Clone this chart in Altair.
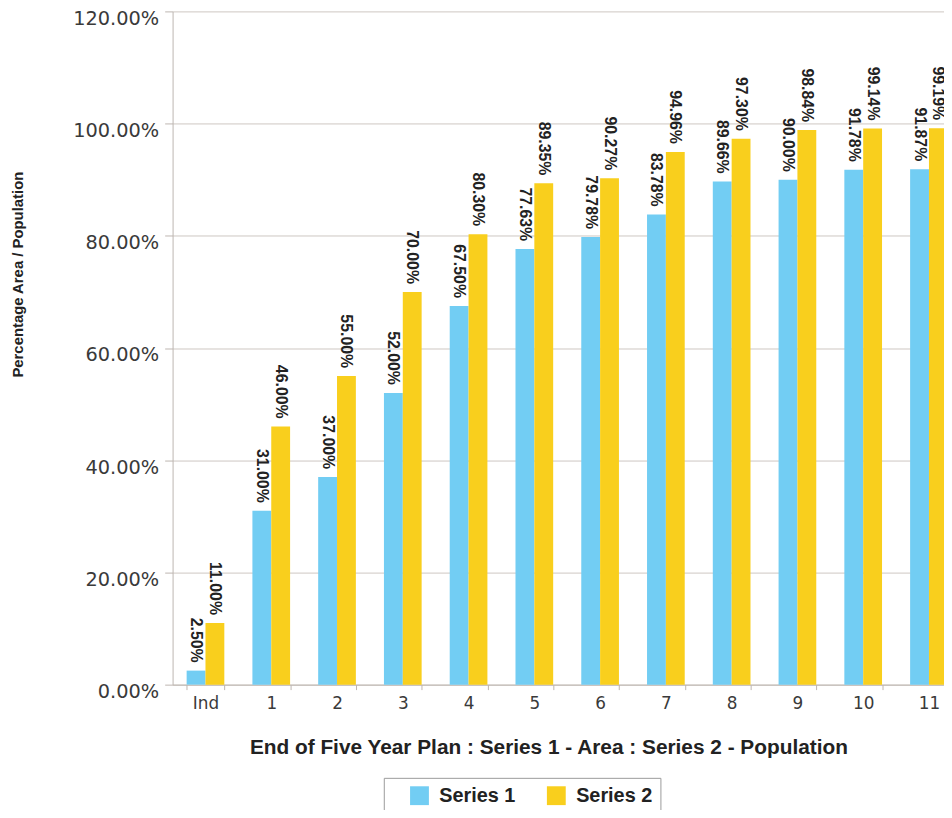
import altair as alt
import pandas as pd

categories = ["Ind", "1", "2", "3", "4", "5", "6", "7", "8", "9", "10", "11"]
series1 = [2.50, 31.00, 37.00, 52.00, 67.50, 77.63, 79.78, 83.78, 89.66, 90.00, 91.78, 91.87]
series2 = [11.00, 46.00, 55.00, 70.00, 80.30, 89.35, 90.27, 94.96, 97.30, 98.84, 99.14, 99.19]
series_names = ["Series 1", "Series 2"]
colors = ["#72cdf3", "#f9cf1d"]
y_ticks = [0, 20, 40, 60, 80, 100, 120]

rows = []
for c, a, b in zip(categories, series1, series2):
    rows.append({"plan": c, "series": series_names[0], "value": a / 100})
    rows.append({"plan": c, "series": series_names[1], "value": b / 100})
df = pd.DataFrame(rows)

PLOT_W = 778
BAND_RANGE = 796
PLOT_H = 679
AXIS_GREY = "#bdb5b0"

x_enc = alt.X(
    "plan:N",
    sort=categories,
    scale=alt.Scale(range=[0, BAND_RANGE], paddingInner=0.427, paddingOuter=0.2135),
    axis=alt.Axis(
        title="End of Five Year Plan : Series 1 - Area : Series 2 - Population",
        titleFont="Liberation Sans",
        titleFontSize=21,
        titleFontWeight="bold",
        titleColor="#222222",
        titleX=379,
        titleY=63,
        titleAlign="center",
        titleBaseline="middle",
        labelFont="DejaVu Sans",
        labelFontSize=17,
        labelColor="#3a3a3a",
        labelAngle=0,
        labelPadding=6,
        tickSize=5,
        tickBand="extent",
        tickColor=AXIS_GREY,
        domainColor=AXIS_GREY,
        grid=False,
    ),
)
xoff_enc = alt.XOffset("series:N", sort=series_names, scale=alt.Scale(paddingInner=0, paddingOuter=0))
y_enc = alt.Y(
    "value:Q",
    scale=alt.Scale(domain=[0, 1.2], nice=False),
    axis=alt.Axis(
        values=[t / 100 for t in y_ticks],
        format=".2%",
        title="Percentage Area / Population",
        titleFont="Liberation Sans",
        titleFontSize=15,
        titleFontWeight="bold",
        titleColor="#222222",
        titleX=-156,
        titleY=265,
        titleAngle=270,
        titleAlign="center",
        titleBaseline="middle",
        labelFont="DejaVu Sans",
        labelFontSize=19.5,
        labelColor="#3a3a3a",
        labelPadding=6,
        labelOffset=7,
        tickSize=8,
        tickColor=AXIS_GREY,
        domainColor=AXIS_GREY,
        gridColor="#cdc6c1",
    ),
)

bars = alt.Chart(df).mark_bar().encode(
    x=x_enc,
    xOffset=xoff_enc,
    y=y_enc,
    color=alt.Color(
        "series:N",
        sort=series_names,
        scale=alt.Scale(domain=series_names, range=colors),
        legend=alt.Legend(
            orient="none",
            legendX=213,
            legendY=773,
            direction="horizontal",
            title=None,
            strokeColor="#9a9a9a",
            fillColor="white",
            padding=8,
            symbolType="square",
            symbolSize=361,
            symbolOffset=18,
            symbolStrokeWidth=0,
            labelFont="Liberation Sans",
            labelFontSize=20,
            labelFontWeight="bold",
            labelColor="#222222",
            labelOffset=10,
            columnPadding=13,
        ),
    ),
)

labels = alt.Chart(df).mark_text(
    angle=90,
    align="right",
    baseline="middle",
    dx=-8,
    font="Liberation Sans Narrow, Liberation Sans",
    fontSize=16,
    fontWeight="bold",
    color="#222222",
).encode(
    x=x_enc,
    xOffset=xoff_enc,
    y=y_enc,
    text=alt.Text("value:Q", format=".2%"),
)

chart = (
    alt.layer(bars, labels)
    .properties(
        width=PLOT_W,
        height=PLOT_H,
        autosize=alt.AutoSizeParams(type="none"),
        padding={"left": 166, "top": 0, "right": 0, "bottom": 123},
        background="white",
    )
    .configure_view(stroke=None)
)

chart.save("out.html", embed_options={"renderer": "svg", "actions": False})
